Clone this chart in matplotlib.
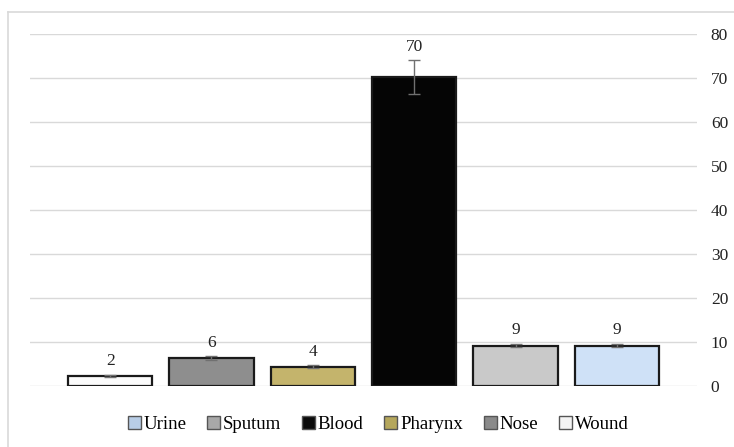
import matplotlib.pyplot as plt
from matplotlib.patches import Patch
from matplotlib.lines import Line2D

plt.rcParams['font.family'] = ['Liberation Serif', 'DejaVu Serif']

values = [2.3, 6.4, 4.4, 70.2, 9.2, 9.2]
labels = ['2', '6', '4', '70', '9', '9']
errors = [0.3, 0.4, 0.4, 3.8, 0.4, 0.4]
bar_colors = ['#fbfbfb', '#8e8e8e', '#c4b46c', '#050505', '#c9c9c9', '#cfe1f7']
legend_names = ['Urine', 'Sputum', 'Blood', 'Pharynx', 'Nose', 'Wound']
legend_colors = ['#b8cde6', '#a8a8a8', '#0a0a0a', '#b5a75c', '#8a8a8a', '#f4f4f4']

fig = plt.figure(figsize=(7.34, 4.47), dpi=100)
ax = fig.add_axes([0.041, 0.1365, 0.9085, 0.7875])

x = list(range(len(values)))
ax.bar(x, values, width=0.83, color=bar_colors, edgecolor='#1a1a1a', linewidth=1.6, zorder=3)
ax.errorbar(x, values, yerr=errors, fmt='none', ecolor='#707070', elinewidth=1, capsize=4, zorder=4)

for xi, v, lab, e in zip(x, values, labels, errors):
    ax.text(xi, v + e + 1.2, lab, ha='center', va='bottom', fontsize=12.5, color='#222222')

ax.set_xlim(-0.79, 5.79)
ax.set_ylim(0, 80)
ax.set_yticks(range(0, 81, 10))
ax.yaxis.tick_right()
ax.tick_params(axis='y', length=0, pad=10, labelsize=12.5, labelcolor='#222222')
ax.set_xticks([])
ax.grid(axis='y', color='#d9d9d9', linewidth=1, zorder=0)
for s in ax.spines.values():
    s.set_visible(False)

handles = [Patch(facecolor=c, edgecolor='#555555', linewidth=1) for c in legend_colors]
fig.legend(handles, legend_names, loc='center', bbox_to_anchor=(0.515, 0.05), ncol=6,
           frameon=False, fontsize=13.5, handlelength=0.7, handleheight=0.7,
           handletextpad=0.15, columnspacing=1.1)

# outer chart frame (left and top edges)
fig.add_artist(Line2D([0.011, 0.011], [0.0, 0.973], color='#d9d9d9', linewidth=1.2))
fig.add_artist(Line2D([0.011, 1.0], [0.973, 0.973], color='#d9d9d9', linewidth=1.2))

fig.savefig('out.png', dpi=100)
